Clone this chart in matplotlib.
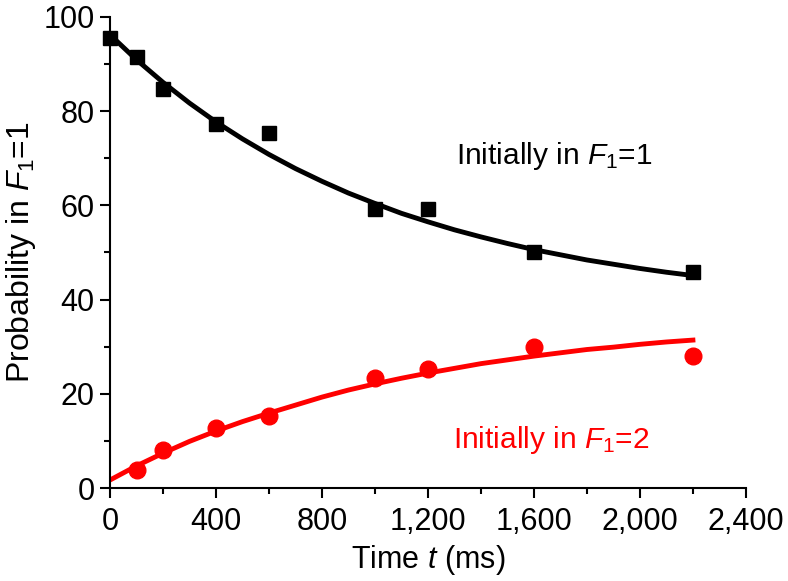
import matplotlib
matplotlib.use('Agg')
import matplotlib.pyplot as plt
from matplotlib.ticker import MultipleLocator, FuncFormatter

plt.rcParams['font.family'] = ['Liberation Sans', 'DejaVu Sans']
plt.rcParams['mathtext.fontset'] = 'custom'
plt.rcParams['mathtext.it'] = 'Liberation Sans:italic'
plt.rcParams['mathtext.rm'] = 'Liberation Sans'

# measured points
time_f1 = [0, 100, 200, 400, 600, 1000, 1200, 1600, 2200]
prob_f1 = [95.6, 91.5, 84.7, 77.3, 75.4, 59.2, 59.2, 50.1, 45.8]
time_f2 = [100, 200, 400, 600, 1000, 1200, 1600, 2200]
prob_f2 = [3.8, 8.1, 12.7, 15.3, 23.4, 25.3, 29.9, 28.0]

# fitted curves
fit_time = [0, 100, 200, 300, 400, 500, 600, 700, 800, 900, 1000, 1100,
            1200, 1300, 1400, 1500, 1600, 1700, 1800, 1900, 2000, 2100, 2200]
fit_f1 = [96.2, 90.9, 86.1, 81.7, 77.7, 74.1, 70.8, 67.8, 65.1, 62.6, 60.4, 58.3,
          56.5, 54.8, 53.3, 51.9, 50.6, 49.5, 48.4, 47.5, 46.6, 45.8, 45.1]
fit_f2 = [1.7, 4.7, 7.4, 9.9, 12.1, 14.1, 15.9, 17.6, 19.3, 20.8, 22.1, 23.3,
          24.4, 25.4, 26.4, 27.2, 28.0, 28.7, 29.4, 29.9, 30.5, 31.0, 31.4]

fig = plt.figure(figsize=(7.88, 5.81), dpi=100)
ax = fig.add_axes([0.1396, 0.160, 0.807, 0.811])

ax.plot(fit_time, fit_f1, color='black', lw=3.5, zorder=2)
ax.plot(fit_time, fit_f2, color='#ff0000', lw=3.5, zorder=2)
ax.plot(time_f1, prob_f1, 's', color='black', ms=10.5, zorder=3, clip_on=False)
ax.plot(time_f2, prob_f2, 'o', color='#ff0000', ms=12, zorder=3, clip_on=False)

ax.set_xlim(0, 2400)
ax.set_ylim(0, 100)
ax.xaxis.set_major_locator(MultipleLocator(400))
ax.xaxis.set_minor_locator(MultipleLocator(200))
ax.yaxis.set_major_locator(MultipleLocator(20))
ax.yaxis.set_minor_locator(MultipleLocator(10))
ax.xaxis.set_major_formatter(FuncFormatter(lambda v, p: f'{int(v):,}'))

for s in ['top', 'right']:
    ax.spines[s].set_visible(False)
for s in ['left', 'bottom']:
    ax.spines[s].set_linewidth(1.5)
ax.tick_params(which='major', direction='out', length=7, width=1.5, labelsize=22, pad=4)
ax.tick_params(axis='x', which='major', pad=7)
ax.tick_params(which='minor', direction='out', length=4, width=1.5)

ax.set_xlabel('Time $t$ (ms)', fontsize=22, labelpad=4)
ax.set_ylabel('Probability in $F_1$=1', fontsize=23, labelpad=4)

ax.text(1305, 70.5, 'Initially in $F_1$=1', fontsize=21.5, color='black', va='center')
ax.text(1295, 10.3, 'Initially in $F_1$=2', fontsize=21.5, color='#ff0000', va='center')

fig.savefig('out.png', dpi=100)
